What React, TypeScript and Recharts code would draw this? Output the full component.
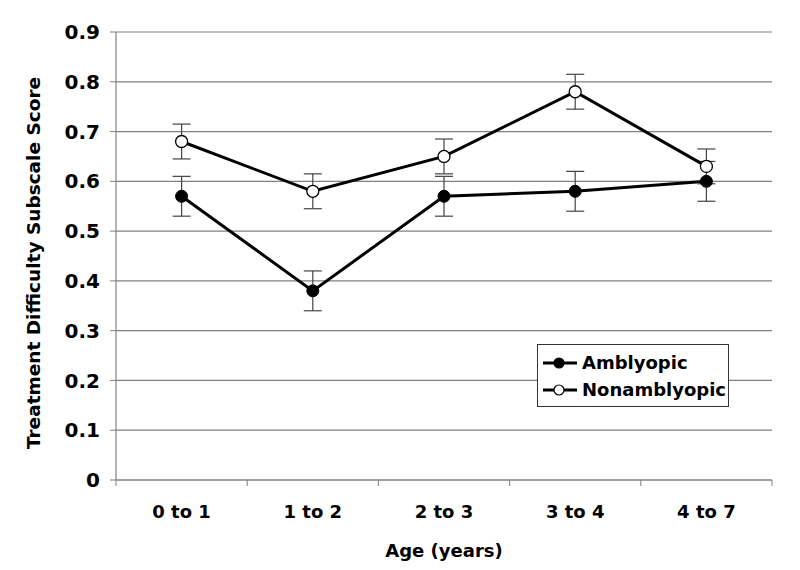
import React from 'react';
import { LineChart, Line, XAxis, YAxis, CartesianGrid, ErrorBar, Legend, Label } from 'recharts';

const ageGroups = ['0 to 1', '1 to 2', '2 to 3', '3 to 4', '4 to 7'];
const amblyopic = [0.57, 0.38, 0.57, 0.58, 0.6];
const amblyopicErr = [0.04, 0.04, 0.04, 0.04, 0.04];
const nonamblyopic = [0.68, 0.58, 0.65, 0.78, 0.63];
const nonamblyopicErr = [0.035, 0.035, 0.035, 0.035, 0.035];
const yTicks = [0, 0.1, 0.2, 0.3, 0.4, 0.5, 0.6, 0.7, 0.8, 0.9];

const data = ageGroups.map((age, i) => ({
  age,
  amb: amblyopic[i],
  ambErr: amblyopicErr[i],
  non: nonamblyopic[i],
  nonErr: nonamblyopicErr[i],
}));

const FONT = '"DejaVu Sans", Verdana, sans-serif';
const GRID = '#808080';

// category ticks, but the tick marks sit on the band edges like Excel does
const AgeTick = (props: any) => {
  const { x, y, payload, index, visibleTicksCount } = props;
  const half = payload.offset || 0;
  return (
    <g>
      <line x1={x - half} x2={x - half} y1={y} y2={y + 6} stroke={GRID} />
      {index === visibleTicksCount - 1 && (
        <line x1={x + half} x2={x + half} y1={y} y2={y + 6} stroke={GRID} />
      )}
      <text x={x} y={y + 38} textAnchor="middle" fontFamily={FONT} fontWeight="bold" fontSize={18} fill="#000">
        {payload.value}
      </text>
    </g>
  );
};

const LegendBox = () => (
  <div
    style={{
      width: 192,
      height: 63,
      border: '1px solid #333',
      background: '#fff',
      boxSizing: 'border-box',
      fontFamily: FONT,
      fontWeight: 'bold',
      fontSize: 18,
      padding: '4px 0 0 5px',
    }}
  >
    {[
      { name: 'Amblyopic', fill: '#000' },
      { name: 'Nonamblyopic', fill: '#fff' },
    ].map((item) => (
      <div key={item.name} style={{ display: 'flex', alignItems: 'center', height: 27 }}>
        <svg width={34} height={14} style={{ marginRight: 5 }}>
          <line x1={0} x2={34} y1={7} y2={7} stroke="#000" strokeWidth={3} />
          <circle cx={16} cy={7} r={5} fill={item.fill} stroke="#000" strokeWidth={1.2} />
        </svg>
        <span>{item.name}</span>
      </div>
    ))}
  </div>
);

const YTitle = (props: any) => {
  const { viewBox } = props;
  const cx = viewBox.x + 40;
  const cy = viewBox.y + viewBox.height / 2 + 7;
  return (
    <text
      x={cx}
      y={cy}
      transform={`rotate(-90 ${cx} ${cy})`}
      textAnchor="middle"
      fontFamily={FONT}
      fontWeight="bold"
      fontSize={18.5}
      fill="#000"
    >
      Treatment Difficulty Subscale Score
    </text>
  );
};

export default function App() {
  return (
    <div style={{ position: 'absolute', left: 0, top: 0, background: '#fff' }}>
      <LineChart width={800} height={570} data={data} margin={{ top: 32, right: 28, bottom: 0, left: 0 }}>
        <CartesianGrid vertical={false} stroke={GRID} strokeWidth={1.2} />
        <XAxis
          dataKey="age"
          scale="band"
          height={90}
          tickSize={0}
          tickMargin={0}
          tickLine={false}
          axisLine={{ stroke: GRID, strokeWidth: 1.2 }}
          tick={<AgeTick />}
          interval={0}
        >
          <Label
            value="Age (years)"
            position="insideBottom"
            offset={13}
            style={{ fontFamily: FONT, fontWeight: 'bold', fontSize: 18, fill: '#000' }}
          />
        </XAxis>
        <YAxis
          width={116}
          domain={[0, 0.9]}
          ticks={yTicks}
          interval={0}
          tickSize={6}
          tickMargin={10}
          axisLine={{ stroke: GRID, strokeWidth: 1.2 }}
          tickLine={{ stroke: GRID }}
          tick={{ fontFamily: FONT, fontWeight: 'bold', fontSize: 20, fill: '#000' }}
          label={<YTitle />}
        />
        <YAxis
          yAxisId="right"
          orientation="right"
          width={0}
          domain={[0, 0.9]}
          tick={false}
          tickLine={false}
          axisLine={{ stroke: GRID, strokeWidth: 1.2 }}
        />
        <Legend
          layout="vertical"
          align="center"
          verticalAlign="middle"
          content={<LegendBox />}
          wrapperStyle={{ left: 537, top: 344, width: 192, height: 63 }}
        />
        <Line
          type="linear"
          dataKey="amb"
          name="Amblyopic"
          stroke="#000"
          strokeWidth={3}
          dot={{ r: 6, fill: '#000', stroke: '#000', strokeWidth: 1 }}
          isAnimationActive={false}
        >
          <ErrorBar dataKey="ambErr" width={9} stroke="#444" strokeWidth={1.2} />
        </Line>
        <Line
          type="linear"
          dataKey="non"
          name="Nonamblyopic"
          stroke="#000"
          strokeWidth={3}
          dot={{ r: 6, fill: '#fff', stroke: '#000', strokeWidth: 1.3 }}
          isAnimationActive={false}
        >
          <ErrorBar dataKey="nonErr" width={9} stroke="#444" strokeWidth={1.2} />
        </Line>
      </LineChart>
    </div>
  );
}
